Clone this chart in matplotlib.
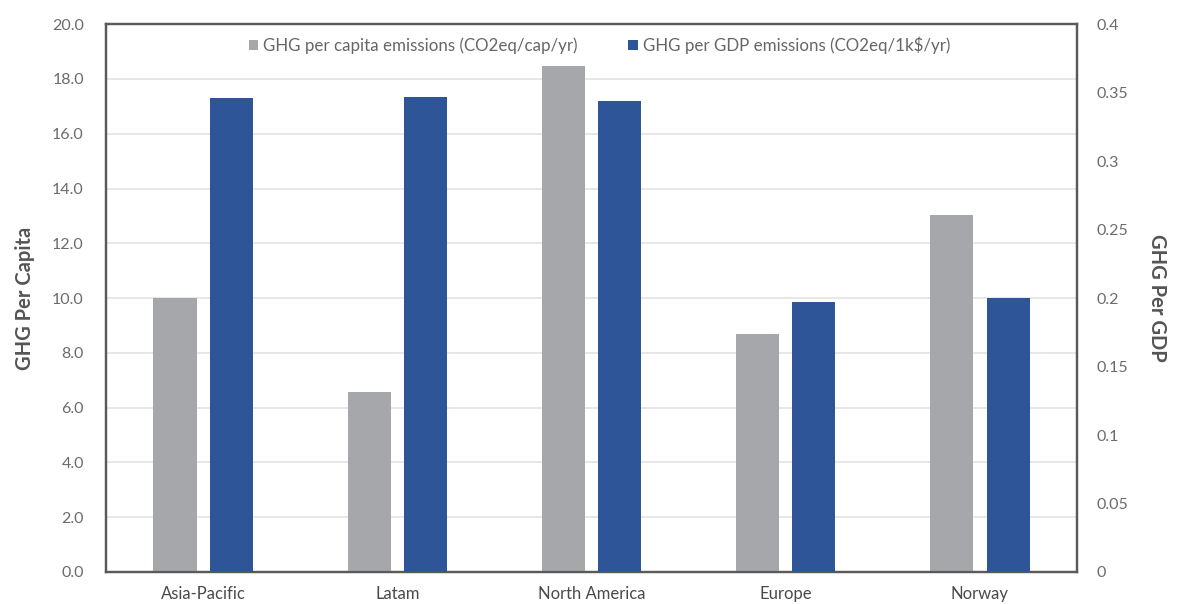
import matplotlib.pyplot as plt
import numpy as np

plt.rcParams['font.family'] = ['Lato', 'DejaVu Sans']

regions = ["Asia-Pacific", "Latam", "North America", "Europe", "Norway"]
per_capita = [10.0, 6.57, 18.48, 8.69, 13.03]
per_gdp = [0.346, 0.347, 0.344, 0.197, 0.200]

left_ticks = np.arange(0, 20.1, 2)
right_ticks = [0, 0.05, 0.1, 0.15, 0.2, 0.25, 0.3, 0.35, 0.4]
right_labels = ["0", "0.05", "0.1", "0.15", "0.2", "0.25", "0.3", "0.35", "0.4"]

grey = "#a5a7aa"
blue = "#2e5597"
frame = "#5a5a5a"
txt = "#6b6b6b"

fig = plt.figure(figsize=(11.77, 6.04), dpi=100)
ax = fig.add_axes([0.0901, 0.053, 0.8250, 0.907])
ax2 = ax.twinx()

x = np.arange(len(regions))
w = 0.222
off = 0.145

b1 = ax.bar(x - off, per_capita, w, color=grey, zorder=3,
            label="GHG per capita emissions (CO2eq/cap/yr)")
b2 = ax2.bar(x + off, per_gdp, w, color=blue, zorder=3,
             label="GHG per GDP emissions (CO2eq/1k$/yr)")

ax.set_xlim(-0.5, len(regions) - 0.5)
ax.set_ylim(0, 20)
ax2.set_ylim(0, 0.4)
ax.set_yticks(left_ticks)
ax.set_yticklabels(["{:.1f}".format(v) for v in left_ticks])
ax2.set_yticks(right_ticks)
ax2.set_yticklabels(right_labels)
ax.set_xticks(x)
ax.set_xticklabels(regions)

ax.yaxis.grid(True, color="#e3e3e3", linewidth=1.2, zorder=0)
ax.set_axisbelow(True)

for a in (ax, ax2):
    a.tick_params(length=0, labelsize=11.5, labelcolor=txt)
    for s in a.spines.values():
        s.set_color(frame)
        s.set_linewidth(1.6)
ax.tick_params(axis='y', pad=16)
ax2.tick_params(axis='y', pad=14)
ax.tick_params(axis='x', pad=10, labelcolor="#4a4a4a", labelsize=12)

ax.set_ylabel("GHG Per Capita", fontsize=14.5, fontweight='bold', color="#555555", labelpad=12)
ax2.set_ylabel("GHG Per GDP", fontsize=14.5, fontweight='bold', color="#555555",
               rotation=270, labelpad=28)

leg = ax.legend(handles=[b1, b2], loc='upper center', bbox_to_anchor=(0.508, 1.006),
                ncol=2, frameon=False, fontsize=12.2, handlelength=0.55, handleheight=0.55,
                handletextpad=0.3, columnspacing=3, labelcolor="#666666")

plt.savefig("out.png", dpi=100)
